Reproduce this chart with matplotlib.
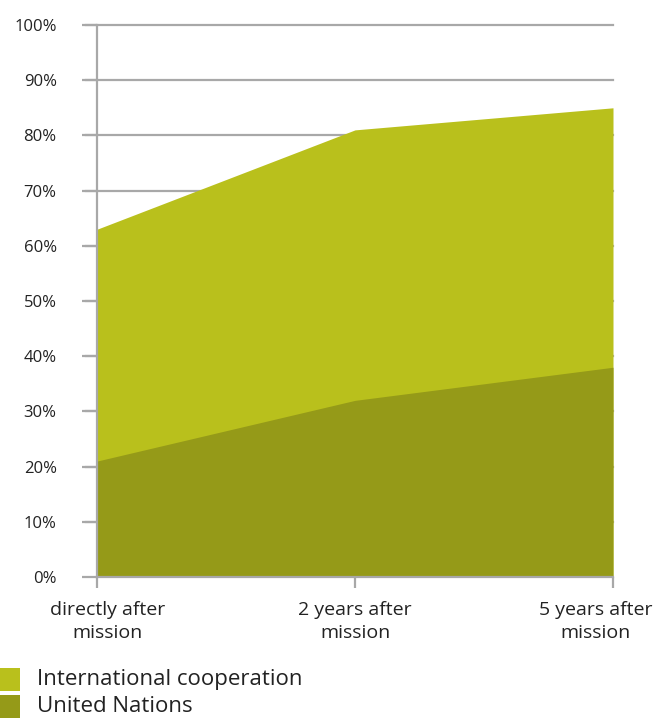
import matplotlib
matplotlib.use("Agg")
import matplotlib.pyplot as plt
from matplotlib.patches import Rectangle
from matplotlib.transforms import ScaledTranslation

categories = ["directly after\nmission", "2 years after\nmission", "5 years after\nmission"]
international = [63, 81, 85]
united_nations = [21, 32, 38]
yticks = [0, 10, 20, 30, 40, 50, 60, 70, 80, 90, 100]
series_names = ["International cooperation", "United Nations"]

c_light = "#b9c01c"
c_dark = "#959a18"
grid_c = "#a8a8a8"
txt_c = "#222222"

plt.rcParams['font.family'] = ['Open Sans', 'DejaVu Sans']

fig = plt.figure(figsize=(6.59, 7.18), dpi=100)
ax = fig.add_axes([97/659, 1-577/718, (613-97)/659, (577-25)/718])

x = list(range(len(categories)))
for t in yticks[1:]:
    ax.axhline(t, color=grid_c, lw=1.6, zorder=0, xmin=-0.0213, clip_on=False)
ax.fill_between(x, 0, international, color=c_light, lw=0, zorder=1)
ax.fill_between(x, 0, united_nations, color=c_dark, lw=0, zorder=2)

ax.set_xlim(0, 2)
ax.set_ylim(0, 100)
ax.set_yticks(yticks)
ax.set_yticklabels([f"{t}%" for t in yticks])
ax.set_xticks(x)
ax.set_xticklabels(categories, linespacing=1.35)

for s in ["top", "right"]:
    ax.spines[s].set_visible(False)
for s in ["left", "bottom"]:
    ax.spines[s].set_color(grid_c)
    ax.spines[s].set_linewidth(1.6)
    ax.spines[s].set_zorder(3)
ax.spines["bottom"].set_bounds(0, 2)

ax.tick_params(axis='y', length=11, width=1.6, color=grid_c, labelsize=12, labelcolor=txt_c, pad=18)
ax.tick_params(axis='x', length=8, width=1.6, color=grid_c, labelsize=14, labelcolor=txt_c, pad=9)

xl = ax.get_xticklabels()
xl[0].set_transform(xl[0].get_transform() + ScaledTranslation(11/100, 0, fig.dpi_scale_trans))
xl[2].set_transform(xl[2].get_transform() + ScaledTranslation(-17/100, 0, fig.dpi_scale_trans))

# legend
colors = [c_light, c_dark]
for i, (name, c) in enumerate(zip(series_names, colors)):
    top = 668 + i*27
    y0 = 1 - (top + 23)/718
    fig.patches.append(Rectangle((0, y0), 20/659, 23/718, transform=fig.transFigure,
                                 facecolor=c, edgecolor='none'))
    fig.text(37/659, y0 + 12/718, name, fontsize=16, color=txt_c, va='center', ha='left')

fig.savefig("out.png", dpi=100)
